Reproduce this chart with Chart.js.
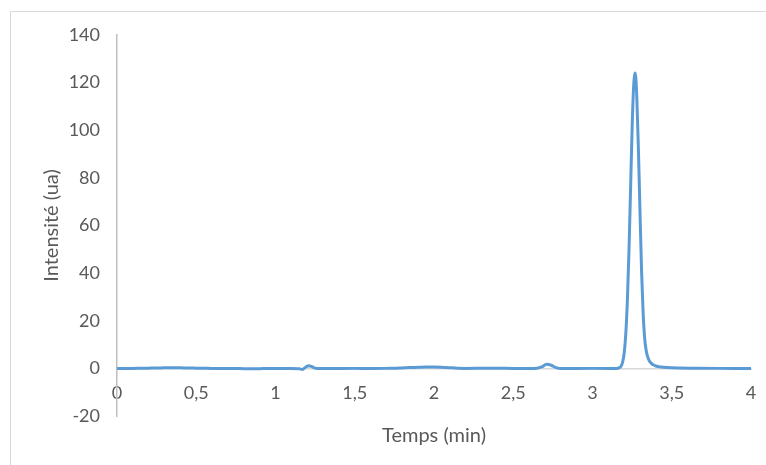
<!DOCTYPE html>
<html>
<head>
<meta charset="utf-8">
<script src="https://cdn.jsdelivr.net/npm/chart.js@4"></script>
<style>
    html, body { margin: 0; padding: 0; background: #fff; }
    #wrap { position: relative; width: 766px; height: 465px; overflow: hidden; }
    #frame { position: absolute; left: 10px; top: 11px; width: 800px; height: 500px;
             border-top: 1px solid #d9d9d9; border-left: 1px solid #d9d9d9; }
    #myChart { position: absolute; left: 0; top: 0; }
</style>
</head>
<body>
<div id="wrap">
    <div id="frame"></div>
    <canvas id="myChart" width="766" height="465"></canvas>
</div>
<script>
// temps (min)
var times = [0, 0.05, 0.1, 0.15, 0.2, 0.25, 0.3, 0.35, 0.4, 0.45, 0.5, 0.55, 0.6, 0.65, 0.7, 0.75,
    0.8, 0.85, 0.9, 0.95, 1.0, 1.05, 1.1, 1.15, 1.17, 1.19, 1.21, 1.23, 1.25, 1.28, 1.32, 1.4, 1.5,
    1.6, 1.7, 1.75, 1.8, 1.85, 1.9, 1.95, 2.0, 2.05, 2.1, 2.15, 2.2, 2.3, 2.4, 2.5, 2.6, 2.65, 2.68,
    2.71, 2.74, 2.77, 2.8, 2.85, 2.9, 3.0, 3.1, 3.15, 3.17, 3.18, 3.19, 3.2, 3.21, 3.22, 3.23, 3.24,
    3.25, 3.26, 3.27, 3.28, 3.29, 3.3, 3.31, 3.32, 3.33, 3.34, 3.35, 3.36, 3.37, 3.38, 3.4, 3.43,
    3.47, 3.55, 3.65, 3.8, 4.0];
// intensité (ua)
var intensity = [0, 0, 0, 0.05, 0.1, 0.15, 0.25, 0.3, 0.25, 0.15, 0.1, 0.05, 0, 0, 0, -0.05,
    -0.15, -0.2, -0.15, -0.05, 0, 0, 0, -0.2, -0.45, 0.5, 1.1, 0.7, 0.1, -0.1, -0.1, -0.05, 0,
    -0.05, 0, 0.05, 0.2, 0.35, 0.45, 0.55, 0.6, 0.5, 0.25, 0.05, 0, 0.05, 0.1, 0, 0, 0.1, 0.6,
    1.7, 1.3, 0.3, -0.1, -0.1, -0.05, 0, 0, 0, 0.3, 0.9, 2.6, 6.5, 14.5, 28.5, 49, 75,
    101, 119, 124, 113, 91, 65, 40, 22.5, 12, 7, 4.5, 3, 2.2, 1.6, 1.0, 0.6,
    0.35, 0.15, 0.05, 0, 0];
var xTicks = { min: 0, max: 4, step: 0.5 };
var yTicks = { min: -20, max: 140, step: 20 };

var textColor = '#595959';
var tickFont = { family: 'Lato', size: 18 };
var titleFont = { family: 'Lato', size: 20 };

var points = times.map(function (t, i) { return { x: t, y: intensity[i] }; });

function noSidePadding(scale) {
    scale.paddingLeft = 0;
    scale.paddingRight = 0;
}

var ctx = document.getElementById('myChart').getContext('2d');
var myChart = new Chart(ctx, {
    type: 'line',
    data: {
        datasets: [{
            label: 'Intensité',
            data: points,
            borderColor: '#5b9bd5',
            borderWidth: 3,
            pointRadius: 0,
            fill: false,
            cubicInterpolationMode: 'monotone'
        }]
    },
    options: {
        responsive: false,
        animation: false,
        layout: { padding: { left: 0, right: 15, top: 35, bottom: 0 } },
        plugins: { legend: { display: false }, tooltip: { enabled: false } },
        scales: {
            x: {
                type: 'linear',
                position: { y: 0 },
                min: xTicks.min,
                max: xTicks.max,
                grid: { display: false, drawTicks: false },
                border: { display: true, color: '#d9d9d9', width: 1.5 },
                ticks: {
                    stepSize: xTicks.step,
                    padding: 14,
                    color: textColor,
                    font: tickFont,
                    maxRotation: 0,
                    callback: function (v) { return String(v).replace('.', ','); }
                },
                afterFit: noSidePadding
            },
            x2: {
                type: 'linear',
                position: 'bottom',
                min: xTicks.min,
                max: xTicks.max,
                grid: { display: false, drawTicks: false },
                border: { display: false },
                ticks: { display: false },
                title: {
                    display: true,
                    text: 'Temps (min)',
                    color: textColor,
                    font: titleFont,
                    padding: { top: 0, bottom: 17 }
                },
                afterFit: function (scale) { scale.height = 49; noSidePadding(scale); }
            },
            y: {
                min: yTicks.min,
                max: yTicks.max,
                grid: { display: false, drawTicks: false },
                border: { display: true, color: '#bfbfbf', width: 1.5 },
                ticks: {
                    stepSize: yTicks.step,
                    padding: 17,
                    color: textColor,
                    font: tickFont
                },
                title: {
                    display: true,
                    text: 'Intensité (ua)',
                    color: textColor,
                    font: titleFont,
                    padding: { top: 40, bottom: 0 }
                },
                afterFit: function (scale) { scale.width = 117; }
            }
        }
    }
});
</script>
</body>
</html>
